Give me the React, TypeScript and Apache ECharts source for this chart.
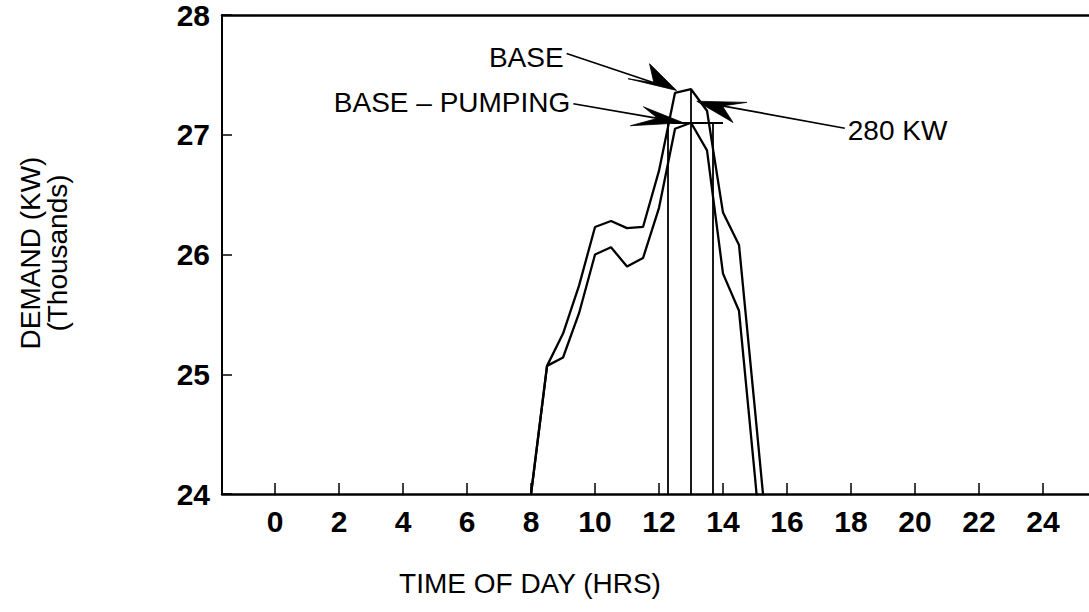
import React, { useEffect, useRef } from "react";
import * as echarts from "echarts";

// ---- data ----
const hours = [8, 8.5, 9, 9.5, 10, 10.5, 11, 11.5, 12, 12.5, 13, 13.5, 14, 14.5, 15, 15.5];
const baseDemand = [24.0, 25.07, 25.34, 25.74, 26.23, 26.28, 26.22, 26.23, 26.7, 27.35, 27.38, 27.2, 26.35, 26.08, 24.7, 23.3];
const pumpedDemand = [24.0, 25.07, 25.14, 25.51, 26.0, 26.06, 25.9, 25.97, 26.39, 27.05, 27.1, 26.87, 25.84, 25.53, 24.14, 22.7];
const xTickValues = [0, 2, 4, 6, 8, 10, 12, 14, 16, 18, 20, 22, 24];
const yTickValues = [24, 25, 26, 27, 28];
const pumpWindow = [12.27, 13.68];
const peakHour = 13.0;
const shavedPeak = 27.1;
const basePeak = 27.38;
const shaveSpan = [12.4, 14.0];
// annotation anchor points (data coordinates)
const baseArrowTip = [12.55, 27.37];
const pumpArrowTip = [12.76, 27.1];
const kwArrowTip = [13.18, 27.28];

const FONT = '"Liberation Sans", Arial, Helvetica, sans-serif';

export default function App() {
  const ref = useRef<HTMLDivElement>(null);
  useEffect(() => {
    const chart = echarts.init(ref.current!, null, { renderer: "svg" });
    const black = "#000";
    const baseSeries = hours.map((h, i) => [h, baseDemand[i]]);
    const pumpSeries = hours.map((h, i) => [h, pumpedDemand[i]]);
    chart.setOption({
      animation: false,
      backgroundColor: "#fff",
      grid: { left: 222, top: 14, width: 867, height: 480 },
      xAxis: [
        {
          type: "value",
          min: -1.66,
          max: 25.44,
          axisLine: { show: true, onZero: false, lineStyle: { color: black, width: 2.5 } },
          axisTick: { show: true, inside: true, length: 11, customValues: xTickValues, lineStyle: { color: black, width: 1.5 } },
          axisLabel: { show: true, customValues: xTickValues, fontSize: 30, fontWeight: "bold", color: black, margin: 12, fontFamily: FONT },
          splitLine: { show: false },
        },
        {
          type: "value",
          position: "top",
          min: -1.66,
          max: 25.44,
          axisLine: { show: true, onZero: false, lineStyle: { color: black, width: 2.5 } },
          axisTick: { show: false },
          axisLabel: { show: false },
          splitLine: { show: false },
        },
      ],
      yAxis: {
        type: "value",
        min: 24,
        max: 28,
        interval: 1,
        axisLine: { show: true, onZero: false, lineStyle: { color: black, width: 2 } },
        axisTick: { show: true, inside: true, length: 10, customValues: yTickValues, lineStyle: { color: black, width: 1.5 } },
        axisLabel: { fontSize: 30, fontWeight: "bold", color: black, margin: 12, fontFamily: FONT },
        splitLine: { show: false },
      },
      series: [
        {
          name: "BASE",
          type: "line",
          data: baseSeries,
          showSymbol: false,
          clip: true,
          lineStyle: { color: black, width: 2.3 },
          markLine: {
            silent: true,
            symbol: ["none", "none"],
            label: { show: false },
            lineStyle: { color: black, width: 1.8, type: "solid" },
            data: [
              [{ coord: [pumpWindow[0], 24] }, { coord: [pumpWindow[0], shavedPeak] }],
              [{ coord: [peakHour, 24] }, { coord: [peakHour, basePeak] }],
              [{ coord: [pumpWindow[1], 24] }, { coord: [pumpWindow[1], shavedPeak] }],
              [{ coord: [shaveSpan[0], shavedPeak] }, { coord: [shaveSpan[1], shavedPeak] }],
            ],
          },
        },
        {
          name: "BASE - PUMPING",
          type: "line",
          data: pumpSeries,
          showSymbol: false,
          clip: true,
          lineStyle: { color: black, width: 2.3 },
        },
      ],
    });

    const toPx = (p: number[]) => chart.convertToPixel({ seriesIndex: 0 }, p) as number[];

    const arrow = (tip: number[], tail: number[], a1: number, l1: number, a2: number, l2: number, notch: number) => {
      const dx = tail[0] - tip[0];
      const dy = tail[1] - tip[1];
      const len = Math.hypot(dx, dy);
      const ux = dx / len;
      const uy = dy / len;
      const rot = (a: number, l: number) => {
        const r = (a * Math.PI) / 180;
        const c = Math.cos(r);
        const s = Math.sin(r);
        return [tip[0] + (ux * c - uy * s) * l, tip[1] + (ux * s + uy * c) * l];
      };
      const nP = [tip[0] + ux * notch, tip[1] + uy * notch];
      return [
        { type: "line", shape: { x1: tail[0], y1: tail[1], x2: nP[0], y2: nP[1] }, style: { stroke: black, lineWidth: 1.7 } },
        { type: "polygon", shape: { points: [tip, rot(a1, l1), nP, rot(a2, l2)] }, style: { fill: black, stroke: black, lineWidth: 0.8 } },
      ];
    };

    const bTip = toPx(baseArrowTip);
    const pTip = toPx(pumpArrowTip);
    const kTip = toPx(kwArrowTip);
    const bTail = [bTip[0] - 110, bTip[1] - 37];
    const pTail = [pTip[0] - 110, pTip[1] - 19];
    const kTail = [kTip[0] + 148, kTip[1] + 27];

    const textStyle = (extra: any) => ({ fill: black, fontSize: 28, fontFamily: FONT, ...extra });

    chart.setOption({
      graphic: [
        ...arrow(bTip, bTail, 26, 38, -5, 50, 24),
        ...arrow(pTip, pTail, 12, 43, -13, 53, 26),
        ...arrow(kTip, kTail, -9, 50, 20, 42, 26),
        { type: "text", x: bTail[0] - 3, y: bTail[1] + 4, style: textStyle({ text: "BASE", align: "right", verticalAlign: "middle" }) },
        { type: "text", x: pTail[0] - 3, y: pTail[1] - 1, style: textStyle({ text: "BASE – PUMPING", align: "right", verticalAlign: "middle" }) },
        { type: "text", x: kTail[0] + 3, y: kTail[1] + 2, style: textStyle({ text: "280 KW", align: "left", verticalAlign: "middle" }) },
        { type: "text", x: 530, y: 583, style: textStyle({ text: "TIME OF DAY (HRS)", align: "center", verticalAlign: "middle" }) },
        { type: "text", x: 30, y: 253, rotation: Math.PI / 2, style: textStyle({ text: "DEMAND (KW)", align: "center", verticalAlign: "middle" }) },
        { type: "text", x: 57, y: 253, rotation: Math.PI / 2, style: textStyle({ text: "(Thousands)", align: "center", verticalAlign: "middle" }) },
      ],
    });

    return () => chart.dispose();
  }, []);
  return <div ref={ref} style={{ position: "fixed", left: 0, top: 0, width: 1089, height: 612, background: "#fff" }} />;
}
